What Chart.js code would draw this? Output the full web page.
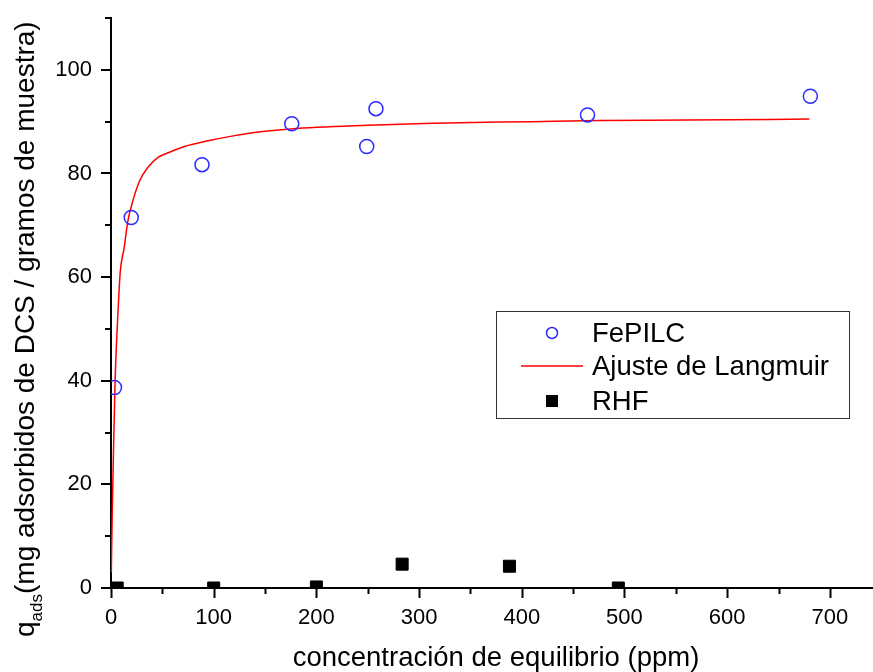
<!DOCTYPE html>
<html>
<head>
<meta charset="utf-8">
<script src="https://cdn.jsdelivr.net/npm/chart.js@4"></script>
<style>
  body { margin: 0; background: #fff; }
  #chart { display: block; }
</style>
</head>
<body>
<canvas id="chart" width="873" height="672"></canvas>
<script>
// values
const fepilcX = [3.4, 19.7, 88.6, 176, 249, 258, 464, 681];
const fepilcY = [38.7, 71.5, 81.7, 89.6, 85.2, 92.5, 91.3, 94.9];

const langmuirX = [0.3, 1.2, 2.5, 4, 7, 9, 12.7, 16.5, 21.4, 27.9, 36, 45.8, 57, 71.6, 94.4, 120.4, 143, 175, 250, 313, 410, 476, 560, 680];
const langmuirY = [3, 14.5, 27, 40, 54, 61, 65.5, 70.9, 74.8, 78.6, 81.2, 83.1, 84.1, 85.2, 86.3, 87.3, 88.0, 88.6, 89.3, 89.7, 90.0, 90.2, 90.3, 90.5];

const rhfX = [6, 100, 200, 283.5, 388, 494];
const rhfY = [0, 0, 0.2, 4.6, 4.2, 0];

const xTickLabels = [0, 100, 200, 300, 400, 500, 600, 700];
const yTickLabels = [0, 20, 40, 60, 80, 100];
const xMinorTicks = [50, 150, 250, 350, 450, 550, 650];
const yMinorTicks = [10, 30, 50, 70, 90, 110];

const seriesNames = ['FePILC', 'Ajuste de Langmuir', 'RHF'];
const xTitle = 'concentración de equilibrio (ppm)';
const yTitleMain = 'q';
const yTitleSub = 'ads';
const yTitleRest = '(mg adsorbidos de DCS / gramos de muestra)';

const FONT = '"Liberation Sans", Arial, sans-serif';

function pts(xs, ys) {
    return xs.map((x, i) => ({ x: x, y: ys[i] }));
}

function noPad(s) {
    s.paddingTop = 0;
    s.paddingBottom = 0;
    s.paddingLeft = 0;
    s.paddingRight = 0;
}

const decorations = {
    id: 'decorations',
    afterDraw(chart) {
        const ctx = chart.ctx;
        const area = chart.chartArea;
        const xs = chart.scales.x;
        const ys = chart.scales.y;
        ctx.save();
        ctx.strokeStyle = '#000';
        ctx.lineWidth = 2;
        ctx.beginPath();
        xTickLabels.forEach(v => {
            const p = Math.round(xs.getPixelForValue(v)) + 0.5;
            ctx.moveTo(p, area.bottom); ctx.lineTo(p, area.bottom + 10);
        });
        xMinorTicks.forEach(v => {
            const p = Math.round(xs.getPixelForValue(v)) + 0.5;
            ctx.moveTo(p, area.bottom); ctx.lineTo(p, area.bottom + 6);
        });
        yTickLabels.forEach(v => {
            const p = Math.round(ys.getPixelForValue(v));
            ctx.moveTo(area.left - 10, p); ctx.lineTo(area.left, p);
        });
        yMinorTicks.forEach(v => {
            const p = Math.round(ys.getPixelForValue(v));
            ctx.moveTo(area.left - 6, p); ctx.lineTo(area.left, p);
        });
        ctx.stroke();

        // axis titles
        ctx.fillStyle = '#000';
        ctx.font = '27.5px ' + FONT;
        ctx.textAlign = 'center';
        ctx.textBaseline = 'alphabetic';
        ctx.fillText(xTitle, 496, 666);

        ctx.translate(34, 637);
        ctx.rotate(-Math.PI / 2);
        ctx.textAlign = 'left';
        let pos = 0;
        ctx.font = '28px ' + FONT;
        ctx.fillText(yTitleMain, pos, 0);
        pos += ctx.measureText(yTitleMain).width;
        ctx.font = '17px ' + FONT;
        ctx.fillText(yTitleSub, pos, 8);
        pos += ctx.measureText(yTitleSub).width;
        ctx.font = '28px ' + FONT;
        ctx.fillText(yTitleRest, pos, 0);
        ctx.setTransform(1, 0, 0, 1, 0, 0);

        // legend box
        const bx = 496, by = 311, bw = 353, bh = 107;
        ctx.fillStyle = '#fff';
        ctx.fillRect(bx, by, bw, bh);
        ctx.strokeStyle = '#333';
        ctx.lineWidth = 1;
        ctx.strokeRect(bx + 0.5, by + 0.5, bw, bh);
        const rows = [333, 366, 401];
        chart.data.datasets.forEach((ds, i) => {
            const y = rows[i];
            ctx.strokeStyle = ds.borderColor;
            ctx.fillStyle = ds.backgroundColor;
            if (ds.showLine) {
                ctx.lineWidth = ds.borderWidth;
                ctx.beginPath();
                ctx.moveTo(521, y); ctx.lineTo(583, y);
                ctx.stroke();
            } else if (ds.pointStyle === 'rect') {
                ctx.fillStyle = ds.borderColor;
                ctx.fillRect(546, y - 6, 12, 12);
            } else {
                ctx.lineWidth = 1.5;
                ctx.beginPath();
                ctx.arc(552, y, 5.5, 0, Math.PI * 2);
                ctx.stroke();
            }
            ctx.fillStyle = '#000';
            ctx.font = '27.5px ' + FONT;
            ctx.textAlign = 'left';
            ctx.textBaseline = 'middle';
            ctx.fillText(ds.label, 592, y + 1);
        });
        ctx.restore();
    }
};

new Chart(document.getElementById('chart'), {
    type: 'scatter',
    data: {
        datasets: [
            {
                label: seriesNames[0],
                data: pts(fepilcX, fepilcY),
                pointStyle: 'circle',
                pointRadius: 7,
                borderWidth: 1.5,
                borderColor: '#2b2bff',
                backgroundColor: 'rgba(0,0,0,0)',
                showLine: false,
                order: 1
            },
            {
                label: seriesNames[1],
                data: pts(langmuirX, langmuirY),
                showLine: true,
                pointRadius: 0,
                borderWidth: 1.5,
                borderColor: '#ff0000',
                backgroundColor: '#ff0000',
                cubicInterpolationMode: 'monotone',
                order: 2
            },
            {
                label: seriesNames[2],
                data: pts(rhfX, rhfY),
                pointStyle: 'rect',
                pointRadius: 8.5,
                borderWidth: 1,
                borderColor: '#000',
                backgroundColor: '#000',
                showLine: false,
                order: 0
            }
        ]
    },
    options: {
        responsive: false,
        animation: false,
        layout: { autoPadding: false, padding: { top: 18, right: 0, left: 0, bottom: 0 } },
        plugins: { legend: { display: false }, tooltip: { enabled: false } },
        scales: {
            x: {
                type: 'linear',
                min: 0,
                max: 742,
                afterBuildTicks: s => { s.ticks = xTickLabels.map(v => ({ value: v })); },
                afterFit: s => { s.height = 84; noPad(s); },
                grid: { display: false, drawTicks: false },
                border: { display: true, color: '#000', width: 2 },
                ticks: { color: '#000', padding: 17, maxRotation: 0, font: { family: FONT, size: 22 } }
            },
            y: {
                type: 'linear',
                min: 0,
                max: 110,
                afterBuildTicks: s => { s.ticks = yTickLabels.map(v => ({ value: v })); },
                afterFit: s => { s.width = 111; noPad(s); },
                grid: { display: false, drawTicks: false },
                border: { display: true, color: '#000', width: 2 },
                ticks: { color: '#000', padding: 19, font: { family: FONT, size: 22 } }
            }
        }
    },
    plugins: [decorations]
});
</script>
</body>
</html>
